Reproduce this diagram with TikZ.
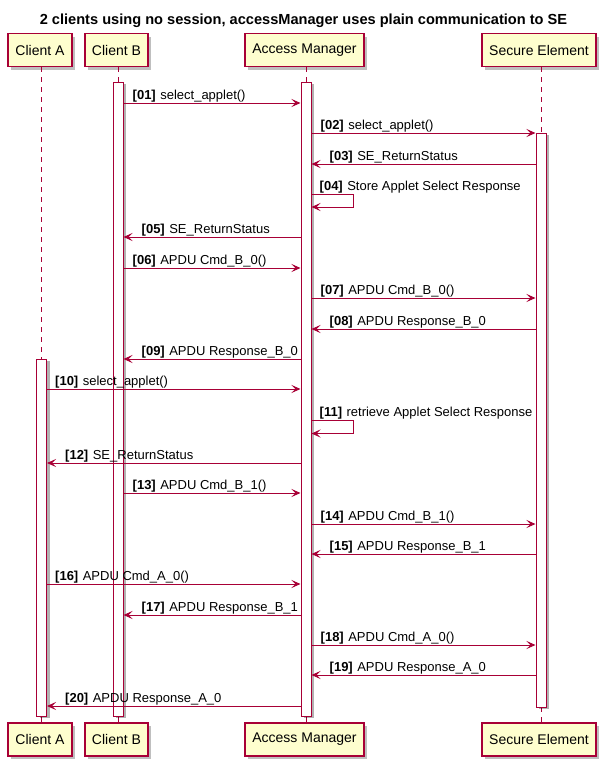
\documentclass[tikz,border=0pt]{standalone}
\usepackage{fontspec}
\setmainfont{Liberation Sans}
\usepackage{tikz}
\usetikzlibrary{arrows.meta,shadows}
\definecolor{umlred}{HTML}{A80036}
\definecolor{umlbox}{HTML}{FEFECE}
\newcommand{\msgno}[1]{\textbf{[#1]}\hspace{4.5pt}}

\begin{document}
\begin{tikzpicture}[x=1pt, y=-1pt,
  actor/.style={draw=umlred,fill=umlbox,line width=1.2pt,minimum height=33pt,inner sep=0,font=\fontsize{14}{16}\selectfont,
    drop shadow={shadow xshift=3pt,shadow yshift=-3pt,fill=black,opacity=0.25}},
  bar/.style={draw=umlred,fill=white,line width=1pt,minimum width=10pt,inner sep=0,
    drop shadow={shadow xshift=3pt,shadow yshift=-2pt,fill=black,opacity=0.3}},
  life/.style={umlred,line width=0.8pt,dash pattern=on 5pt off 5pt},
  msg/.style={umlred,line width=1pt,-{Stealth[length=9pt,width=8pt,inset=4pt]}},
  lbl/.style={anchor=base west,inner sep=0,font=\fontsize{13}{15}\selectfont}
]
\useasboundingbox (0,0) rectangle (606,764);

% Title
\node[anchor=base,font=\bfseries\fontsize{14.6}{17}\selectfont] (title) at (303.5,24.5)
  {2 clients using no session, accessManager uses plain communication to SE};

% Participants
\node[actor,minimum width=64pt] (topA) at (40,50) {Client A};
\node[actor,minimum width=63pt] (topB) at (116.5,50) {Client B};
\node[actor,minimum width=119pt] (topAM) at (304.5,50) {Access Manager};
\node[actor,minimum width=114pt] (topSE) at (539,50) {Secure Element};
\node[actor,minimum width=64pt] (botA) at (40,739.5) {Client A};
\node[actor,minimum width=63pt] (botB) at (116.5,739.5) {Client B};
\node[actor,minimum width=119pt] (botAM) at (304.5,739.5) {Access Manager};
\node[actor,minimum width=114pt] (botSE) at (539,739.5) {Secure Element};

% Lifelines
\coordinate (xA) at (41.5,0);
\coordinate (xB) at (118,0);
\coordinate (xAM) at (306,0);
\coordinate (xSE) at (541,0);
\draw[life] (topA.south -| xA) -- (botA.north -| xA);
\draw[life] (topB.south -| xB) -- (botB.north -| xB);
\draw[life] (topAM.south -| xAM) -- (botAM.north -| xAM);
\draw[life] (topSE.south -| xSE) -- (botSE.north -| xSE);

% Activations
\node[bar,minimum height=634pt] (barB) at (118,399) {};
\node[bar,minimum height=634pt] (barAM) at (306,399) {};
\node[bar,minimum height=574pt] (barSE) at (541,420) {};
\node[bar,minimum height=357pt] (barA) at (41.5,537.5) {};

% Message rows
\foreach \n/\y in {01/103,02/133,03/164,04/194,05/237,06/268,07/298,08/329,09/359,10/389,
                   11/420.5,12/463,13/493,14/524,15/554,16/584,17/615,18/645,19/675,20/706}
  \coordinate (r\n) at (0,\y);

% Messages
\draw[msg] (barB.east |- r01) -- (barAM.west |- r01);
\node[lbl] (t01) at ([xshift=9pt,yshift=4pt]barB.east |- r01) {\msgno{01}select\_applet()};
\draw[msg] (barAM.east |- r02) -- (barSE.west |- r02);
\node[lbl] (t02) at ([xshift=9pt,yshift=4pt]barAM.east |- r02) {\msgno{02}select\_applet()};
\draw[msg] (barSE.west |- r03) -- (barAM.east |- r03);
\node[lbl] (t03) at ([xshift=18pt,yshift=4pt]barAM.east |- r03) {\msgno{03}SE\_ReturnStatus};
\draw[msg] (barAM.east |- r04) -- ++(42,0) -- ++(0,13) -- ++(-42,0);
\node[lbl] (t04) at ([xshift=8pt,yshift=4pt]barAM.east |- r04) {\msgno{04}Store Applet Select Response};
\draw[msg] (barAM.west |- r05) -- (barB.east |- r05);
\node[lbl] (t05) at ([xshift=18pt,yshift=4pt]barB.east |- r05) {\msgno{05}SE\_ReturnStatus};
\draw[msg] (barB.east |- r06) -- (barAM.west |- r06);
\node[lbl] (t06) at ([xshift=9pt,yshift=4pt]barB.east |- r06) {\msgno{06}APDU Cmd\_B\_0()};
\draw[msg] (barAM.east |- r07) -- (barSE.west |- r07);
\node[lbl] (t07) at ([xshift=9pt,yshift=4pt]barAM.east |- r07) {\msgno{07}APDU Cmd\_B\_0()};
\draw[msg] (barSE.west |- r08) -- (barAM.east |- r08);
\node[lbl] (t08) at ([xshift=18pt,yshift=4pt]barAM.east |- r08) {\msgno{08}APDU Response\_B\_0};
\draw[msg] (barAM.west |- r09) -- (barB.east |- r09);
\node[lbl] (t09) at ([xshift=18pt,yshift=4pt]barB.east |- r09) {\msgno{09}APDU Response\_B\_0};
\draw[msg] (barA.east |- r10) -- (barAM.west |- r10);
\node[lbl] (t10) at ([xshift=8pt,yshift=4pt]barA.east |- r10) {\msgno{10}select\_applet()};
\draw[msg] (barAM.east |- r11) -- ++(42,0) -- ++(0,13) -- ++(-42,0);
\node[lbl] (t11) at ([xshift=8pt,yshift=4pt]barAM.east |- r11) {\msgno{11}retrieve Applet Select Response};
\draw[msg] (barAM.west |- r12) -- (barA.east |- r12);
\node[lbl] (t12) at ([xshift=18pt,yshift=4pt]barA.east |- r12) {\msgno{12}SE\_ReturnStatus};
\draw[msg] (barB.east |- r13) -- (barAM.west |- r13);
\node[lbl] (t13) at ([xshift=9pt,yshift=4pt]barB.east |- r13) {\msgno{13}APDU Cmd\_B\_1()};
\draw[msg] (barAM.east |- r14) -- (barSE.west |- r14);
\node[lbl] (t14) at ([xshift=9pt,yshift=4pt]barAM.east |- r14) {\msgno{14}APDU Cmd\_B\_1()};
\draw[msg] (barSE.west |- r15) -- (barAM.east |- r15);
\node[lbl] (t15) at ([xshift=18pt,yshift=4pt]barAM.east |- r15) {\msgno{15}APDU Response\_B\_1};
\draw[msg] (barA.east |- r16) -- (barAM.west |- r16);
\node[lbl] (t16) at ([xshift=8pt,yshift=4pt]barA.east |- r16) {\msgno{16}APDU Cmd\_A\_0()};
\draw[msg] (barAM.west |- r17) -- (barB.east |- r17);
\node[lbl] (t17) at ([xshift=18pt,yshift=4pt]barB.east |- r17) {\msgno{17}APDU Response\_B\_1};
\draw[msg] (barAM.east |- r18) -- (barSE.west |- r18);
\node[lbl] (t18) at ([xshift=9pt,yshift=4pt]barAM.east |- r18) {\msgno{18}APDU Cmd\_A\_0()};
\draw[msg] (barSE.west |- r19) -- (barAM.east |- r19);
\node[lbl] (t19) at ([xshift=18pt,yshift=4pt]barAM.east |- r19) {\msgno{19}APDU Response\_A\_0};
\draw[msg] (barAM.west |- r20) -- (barA.east |- r20);
\node[lbl] (t20) at ([xshift=18pt,yshift=4pt]barA.east |- r20) {\msgno{20}APDU Response\_A\_0};
\end{tikzpicture}
\end{document}
